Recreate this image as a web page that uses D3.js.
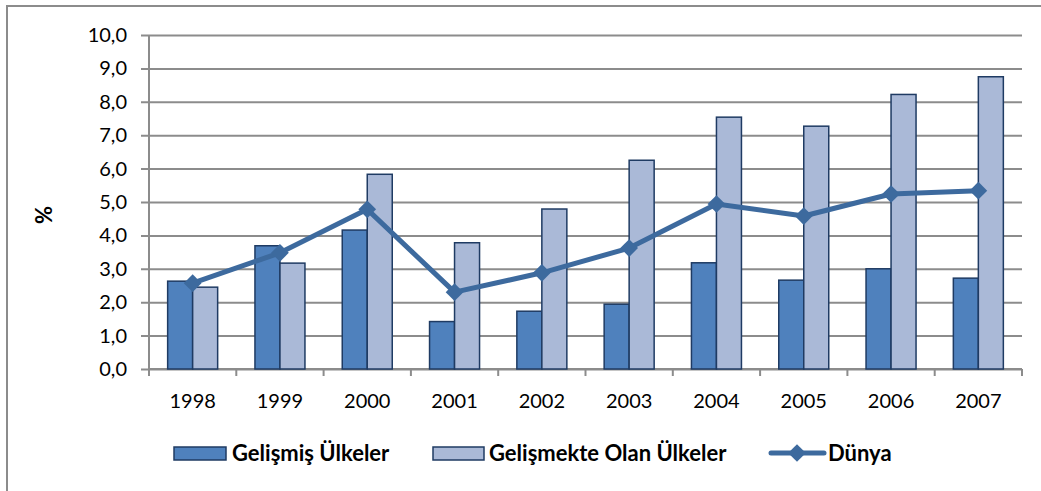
<!DOCTYPE html>
<html>
<head>
<meta charset="utf-8">
<script src="https://cdn.jsdelivr.net/npm/d3@7"></script>
<style>
  body { margin: 0; background: #fff; }
  svg text { font-family: Lato, "Open Sans", sans-serif; fill: #000; }
</style>
</head>
<body>
<script>
// data
var years = ["1998", "1999", "2000", "2001", "2002", "2003", "2004", "2005", "2006", "2007"];
var gelismis = [2.63, 3.69, 4.16, 1.42, 1.73, 1.94, 3.18, 2.66, 3.00, 2.72];
var gelismekte = [2.45, 3.17, 5.83, 3.78, 4.79, 6.25, 7.54, 7.27, 8.22, 8.75];
var dunya = [2.57, 3.48, 4.78, 2.30, 2.88, 3.62, 4.94, 4.58, 5.24, 5.34];
var yTicks = [0, 1, 2, 3, 4, 5, 6, 7, 8, 9, 10];
var seriesNames = ["Gelişmiş Ülkeler", "Gelişmekte Olan Ülkeler", "Dünya"];

var width = 1041, height = 491;
var plotLeft = 149, plotRight = 1022, plotTop = 35, plotBottom = 369;

var svg = d3.select("body").append("svg")
    .attr("width", width)
    .attr("height", height);

// outer chart frame (cut off at right and bottom in the original)
svg.append("rect")
    .attr("x", 7).attr("y", 6)
    .attr("width", 1060).attr("height", 500)
    .attr("fill", "none")
    .attr("stroke", "#8c8c8c")
    .attr("stroke-width", 2);

var x = d3.scaleBand().domain(years).range([plotLeft, plotRight]);
var y = d3.scaleLinear().domain([0, 10]).range([plotBottom, plotTop]);

var fmt = function(d) { return d3.format(".1f")(d).replace(".", ","); };

// gridlines + y labels
var yAxis = d3.axisLeft(y)
    .tickValues(yTicks)
    .tickSize(-(plotRight - plotLeft))
    .tickSizeOuter(0)
    .tickPadding(15)
    .tickFormat(fmt);

var gy = svg.append("g")
    .attr("transform", "translate(" + plotLeft + ",0)")
    .call(yAxis);
gy.select(".domain").remove();
gy.selectAll(".tick line")
    .attr("x1", -8)
    .attr("stroke", "#8c8c8c")
    .attr("stroke-width", 2);
gy.selectAll(".tick text")
    .attr("x", -22)
    .attr("font-size", 20)
    .attr("font-family", "Lato, sans-serif");

// y axis line
svg.append("line")
    .attr("x1", plotLeft).attr("x2", plotLeft)
    .attr("y1", plotTop).attr("y2", plotBottom)
    .attr("stroke", "#8c8c8c")
    .attr("stroke-width", 2);

// x axis with ticks at category boundaries
var gx = svg.append("g").attr("transform", "translate(0," + plotBottom + ")");
gx.append("line")
    .attr("x1", plotLeft).attr("x2", plotRight)
    .attr("stroke", "#8c8c8c").attr("stroke-width", 2);
gx.selectAll("line.sep")
    .data(years.concat(["end"]))
    .enter()
    .append("line")
    .attr("class", "sep")
    .attr("x1", function(d, i) { return plotLeft + i * x.bandwidth(); })
    .attr("x2", function(d, i) { return plotLeft + i * x.bandwidth(); })
    .attr("y1", 0).attr("y2", 7)
    .attr("stroke", "#8c8c8c").attr("stroke-width", 2);
gx.selectAll("text")
    .data(years)
    .enter()
    .append("text")
    .attr("x", function(d) { return x(d) + x.bandwidth() / 2; })
    .attr("y", 39)
    .attr("text-anchor", "middle")
    .attr("font-size", 20)
    .text(function(d) { return d; });

// bars
var barW = 25;
var dark = "#4f81bd", light = "#aab9d7", edge = "#1f3b63";

svg.selectAll("rect.gelismis")
    .data(gelismis)
    .enter()
    .append("rect")
    .attr("class", "gelismis")
    .attr("x", function(d, i) { return x(years[i]) + x.bandwidth() / 2 - barW; })
    .attr("y", function(d) { return y(d); })
    .attr("width", barW)
    .attr("height", function(d) { return plotBottom - y(d); })
    .attr("fill", dark)
    .attr("stroke", edge)
    .attr("stroke-width", 1.5);

svg.selectAll("rect.gelismekte")
    .data(gelismekte)
    .enter()
    .append("rect")
    .attr("class", "gelismekte")
    .attr("x", function(d, i) { return x(years[i]) + x.bandwidth() / 2; })
    .attr("y", function(d) { return y(d); })
    .attr("width", barW)
    .attr("height", function(d) { return plotBottom - y(d); })
    .attr("fill", light)
    .attr("stroke", edge)
    .attr("stroke-width", 1.5);

// Dünya line
var lineColor = "#3d6a9e";
var line = d3.line()
    .x(function(d, i) { return x(years[i]) + x.bandwidth() / 2; })
    .y(function(d) { return y(d); });

svg.append("path")
    .datum(dunya)
    .attr("d", line)
    .attr("fill", "none")
    .attr("stroke", lineColor)
    .attr("stroke-width", 5)
    .attr("stroke-linejoin", "round");

var diamond = d3.symbol().type(d3.symbolDiamond2).size(200);
svg.selectAll("path.marker")
    .data(dunya)
    .enter()
    .append("path")
    .attr("class", "marker")
    .attr("d", diamond)
    .attr("transform", function(d, i) {
        return "translate(" + (x(years[i]) + x.bandwidth() / 2) + "," + y(d) + ")";
    })
    .attr("fill", lineColor);

// y axis title
svg.append("text")
    .attr("transform", "translate(52,215) rotate(-90)")
    .attr("text-anchor", "middle")
    .attr("font-size", 22)
    .attr("font-weight", "bold")
    .text("%");

// legend
var lg = svg.append("g");
lg.append("rect")
    .attr("x", 174).attr("y", 447).attr("width", 52).attr("height", 13)
    .attr("fill", dark).attr("stroke", edge).attr("stroke-width", 1.5);
lg.append("text")
    .attr("x", 232).attr("y", 461)
    .attr("font-size", 22).attr("font-weight", "bold")
    .text(seriesNames[0]);

lg.append("rect")
    .attr("x", 433).attr("y", 447).attr("width", 51).attr("height", 13)
    .attr("fill", light).attr("stroke", edge).attr("stroke-width", 1.5);
lg.append("text")
    .attr("x", 489).attr("y", 461)
    .attr("font-size", 22).attr("font-weight", "bold")
    .text(seriesNames[1]);

lg.append("line")
    .attr("x1", 771).attr("x2", 824).attr("y1", 453).attr("y2", 453)
    .attr("stroke", lineColor).attr("stroke-width", 5)
    .attr("stroke-linecap", "round");
lg.append("path")
    .attr("d", diamond)
    .attr("transform", "translate(797,453)")
    .attr("fill", lineColor);
lg.append("text")
    .attr("x", 828).attr("y", 461)
    .attr("font-size", 22).attr("font-weight", "bold")
    .text(seriesNames[2]);
</script>
</body>
</html>
